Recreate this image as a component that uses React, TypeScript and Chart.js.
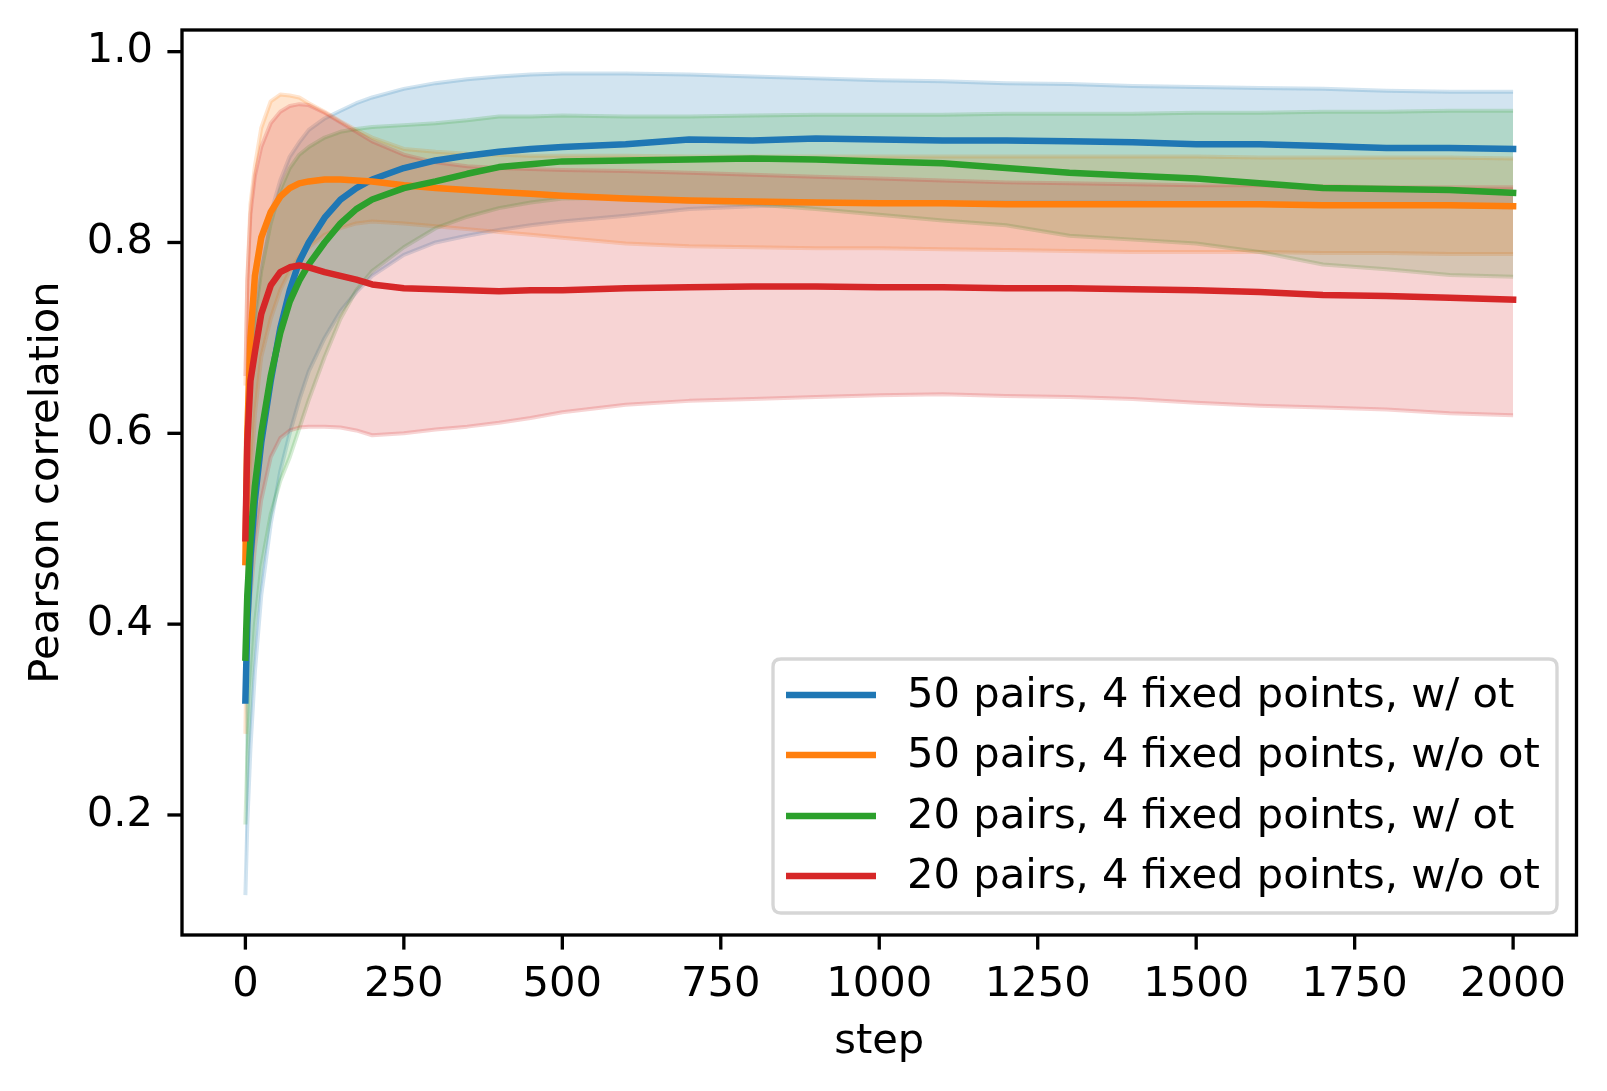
import React, { useEffect, useRef } from 'react';
import { Chart, registerables } from 'chart.js';

Chart.register(...registerables);

// ---------- data ----------
const steps = [0, 3, 8, 15, 25, 40, 55, 70, 85, 100, 125, 150, 175, 200, 250, 300, 350, 400, 450, 500, 600, 700, 800, 900, 1000, 1100, 1200, 1300, 1400, 1500, 1600, 1700, 1800, 1900, 2000];

const seriesLabels = [
  '50 pairs, 4 fixed points, w/ ot',
  '50 pairs, 4 fixed points, w/o ot',
  '20 pairs, 4 fixed points, w/ ot',
  '20 pairs, 4 fixed points, w/o ot',
];

const blueMean = [0.32, 0.40, 0.47, 0.53, 0.59, 0.655, 0.71, 0.75, 0.78, 0.80, 0.826, 0.845, 0.857, 0.866, 0.878, 0.886, 0.891, 0.895, 0.898, 0.900, 0.903, 0.908, 0.907, 0.909, 0.908, 0.907, 0.907, 0.906, 0.905, 0.903, 0.903, 0.901, 0.899, 0.899, 0.898];
const blueHigh = [0.52, 0.60, 0.67, 0.73, 0.78, 0.83, 0.865, 0.89, 0.905, 0.918, 0.93, 0.938, 0.946, 0.952, 0.961, 0.967, 0.971, 0.974, 0.976, 0.977, 0.977, 0.976, 0.974, 0.972, 0.970, 0.969, 0.967, 0.966, 0.964, 0.963, 0.962, 0.961, 0.959, 0.958, 0.958];
const blueLow = [0.116, 0.19, 0.27, 0.35, 0.43, 0.505, 0.56, 0.60, 0.635, 0.665, 0.70, 0.728, 0.748, 0.765, 0.787, 0.80, 0.807, 0.813, 0.818, 0.822, 0.828, 0.835, 0.838, 0.840, 0.841, 0.841, 0.842, 0.842, 0.842, 0.841, 0.840, 0.840, 0.839, 0.838, 0.837];

const orangeMean = [0.465, 0.60, 0.70, 0.765, 0.805, 0.832, 0.848, 0.857, 0.862, 0.864, 0.866, 0.866, 0.865, 0.864, 0.86, 0.857, 0.855, 0.853, 0.851, 0.849, 0.846, 0.844, 0.843, 0.842, 0.841, 0.841, 0.840, 0.840, 0.840, 0.840, 0.840, 0.839, 0.839, 0.839, 0.838];
const orangeHigh = [0.65, 0.76, 0.84, 0.88, 0.92, 0.948, 0.955, 0.954, 0.952, 0.946, 0.937, 0.927, 0.918, 0.910, 0.898, 0.895, 0.893, 0.892, 0.891, 0.891, 0.891, 0.890, 0.890, 0.890, 0.890, 0.890, 0.890, 0.890, 0.890, 0.890, 0.889, 0.889, 0.889, 0.889, 0.888];
const orangeLow = [0.285, 0.42, 0.54, 0.62, 0.68, 0.72, 0.75, 0.77, 0.785, 0.795, 0.808, 0.815, 0.82, 0.822, 0.82, 0.817, 0.814, 0.811, 0.808, 0.805, 0.799, 0.796, 0.795, 0.794, 0.794, 0.793, 0.792, 0.791, 0.790, 0.790, 0.790, 0.789, 0.789, 0.788, 0.788];

const greenMean = [0.365, 0.43, 0.49, 0.545, 0.60, 0.66, 0.705, 0.738, 0.76, 0.777, 0.80, 0.82, 0.835, 0.845, 0.857, 0.864, 0.872, 0.879, 0.882, 0.885, 0.886, 0.887, 0.888, 0.887, 0.885, 0.883, 0.878, 0.873, 0.870, 0.867, 0.862, 0.857, 0.856, 0.855, 0.852];
const greenHigh = [0.54, 0.60, 0.66, 0.72, 0.77, 0.82, 0.855, 0.878, 0.892, 0.90, 0.91, 0.916, 0.919, 0.921, 0.923, 0.925, 0.928, 0.932, 0.932, 0.933, 0.932, 0.932, 0.933, 0.934, 0.934, 0.934, 0.935, 0.935, 0.935, 0.936, 0.936, 0.937, 0.937, 0.938, 0.938];
const greenLow = [0.19, 0.26, 0.33, 0.40, 0.46, 0.515, 0.55, 0.575, 0.605, 0.635, 0.68, 0.72, 0.75, 0.77, 0.795, 0.815, 0.827, 0.836, 0.842, 0.846, 0.847, 0.843, 0.840, 0.835, 0.829, 0.823, 0.818, 0.807, 0.803, 0.799, 0.790, 0.777, 0.772, 0.766, 0.764];

const redMean = [0.49, 0.59, 0.655, 0.685, 0.725, 0.755, 0.769, 0.774, 0.776, 0.774, 0.769, 0.765, 0.761, 0.756, 0.752, 0.751, 0.750, 0.749, 0.750, 0.750, 0.752, 0.753, 0.754, 0.754, 0.753, 0.753, 0.752, 0.752, 0.751, 0.750, 0.748, 0.745, 0.744, 0.742, 0.740];
const redHigh = [0.66, 0.76, 0.83, 0.87, 0.90, 0.925, 0.937, 0.943, 0.945, 0.944, 0.936, 0.926, 0.916, 0.906, 0.892, 0.884, 0.880, 0.878, 0.877, 0.876, 0.875, 0.873, 0.871, 0.869, 0.867, 0.865, 0.863, 0.862, 0.861, 0.860, 0.860, 0.859, 0.858, 0.858, 0.858];
const redLow = [0.32, 0.38, 0.43, 0.48, 0.53, 0.575, 0.595, 0.603, 0.606, 0.607, 0.607, 0.606, 0.603, 0.598, 0.600, 0.604, 0.607, 0.611, 0.616, 0.622, 0.630, 0.634, 0.636, 0.638, 0.640, 0.641, 0.639, 0.638, 0.636, 0.632, 0.629, 0.627, 0.625, 0.621, 0.619];

const xTicks = [0, 250, 500, 750, 1000, 1250, 1500, 1750, 2000];
const yTicks = [0.2, 0.4, 0.6, 0.8, 1.0];

const COLORS = ['31,119,180', '255,127,14', '44,160,44', '214,39,40'];

// ---------- styling constants ----------
const W = 1607;
const H = 1091;
const FONT = 41.67;
const FAMILY = '"DejaVu Sans", "Noto Sans", sans-serif';
const SPINE = 3.33;
const TICK_LEN = 14.6;
const MAIN_LW = 6.5;

const series = [
  { label: seriesLabels[0], mean: blueMean, hi: blueHigh, lo: blueLow, rgb: COLORS[0] },
  { label: seriesLabels[1], mean: orangeMean, hi: orangeHigh, lo: orangeLow, rgb: COLORS[1] },
  { label: seriesLabels[2], mean: greenMean, hi: greenHigh, lo: greenLow, rgb: COLORS[2] },
  { label: seriesLabels[3], mean: redMean, hi: redHigh, lo: redLow, rgb: COLORS[3] },
];

const toPts = (arr: number[]) => steps.map((s, i) => ({ x: s, y: arr[i] }));

function buildDatasets() {
  const ds: any[] = [];
  series.forEach((s, k) => {
    const hiIdx = ds.length;
    ds.push({
      label: '_band_hi_' + k,
      data: toPts(s.hi),
      borderColor: `rgba(${s.rgb},0.2)`,
      backgroundColor: `rgba(${s.rgb},0.2)`,
      borderWidth: 4,
      fill: hiIdx + 1,
      order: 20 - k,
      pointRadius: 0,
      tension: 0,
      borderJoinStyle: 'round',
    });
    ds.push({
      label: '_band_lo_' + k,
      data: toPts(s.lo),
      borderColor: `rgba(${s.rgb},0.2)`,
      backgroundColor: 'rgba(0,0,0,0)',
      borderWidth: 4,
      fill: false,
      order: 20 - k,
      pointRadius: 0,
      tension: 0,
      borderJoinStyle: 'round',
    });
  });
  series.forEach((s, k) => {
    ds.push({
      label: s.label,
      data: toPts(s.mean),
      borderColor: `rgb(${s.rgb})`,
      backgroundColor: `rgb(${s.rgb})`,
      borderWidth: MAIN_LW,
      fill: false,
      order: 10 - k,
      pointRadius: 0,
      tension: 0,
      borderJoinStyle: 'round',
      borderCapStyle: 'square',
      isMain: true,
      rgb: s.rgb,
    });
  });
  return ds;
}

const framePlugin = {
  id: 'frameAndLegend',
  afterDraw(chart: any) {
    const { ctx, chartArea } = chart;
    const { left, right, top, bottom } = chartArea;
    ctx.save();
    // ticks
    ctx.strokeStyle = '#000';
    ctx.lineWidth = SPINE;
    ctx.lineCap = 'butt';
    const xs = chart.scales.x;
    const ys = chart.scales.y;
    xTicks.forEach((v) => {
      const px = xs.getPixelForValue(v);
      ctx.beginPath();
      ctx.moveTo(px, bottom);
      ctx.lineTo(px, bottom + TICK_LEN);
      ctx.stroke();
    });
    yTicks.forEach((v) => {
      const py = ys.getPixelForValue(v);
      ctx.beginPath();
      ctx.moveTo(left, py);
      ctx.lineTo(left - TICK_LEN, py);
      ctx.stroke();
    });
    // spines
    ctx.lineJoin = 'miter';
    ctx.strokeRect(left, top, right - left, bottom - top);

    // legend
    const bx = 773, by = 659, bw = 784, bh = 254, r = 8;
    ctx.beginPath();
    ctx.moveTo(bx + r, by);
    ctx.lineTo(bx + bw - r, by);
    ctx.quadraticCurveTo(bx + bw, by, bx + bw, by + r);
    ctx.lineTo(bx + bw, by + bh - r);
    ctx.quadraticCurveTo(bx + bw, by + bh, bx + bw - r, by + bh);
    ctx.lineTo(bx + r, by + bh);
    ctx.quadraticCurveTo(bx, by + bh, bx, by + bh - r);
    ctx.lineTo(bx, by + r);
    ctx.quadraticCurveTo(bx, by, bx + r, by);
    ctx.closePath();
    ctx.fillStyle = 'rgba(255,255,255,0.8)';
    ctx.fill();
    ctx.strokeStyle = 'rgba(204,204,204,0.8)';
    ctx.lineWidth = SPINE;
    ctx.stroke();

    const mains = chart.data.datasets.filter((d: any) => d.isMain);
    const rowY = [695, 755, 816, 876];
    ctx.font = `${FONT}px ${FAMILY}`;
    ctx.textBaseline = 'middle';
    ctx.textAlign = 'left';
    mains.forEach((d: any, i: number) => {
      const y = rowY[i];
      ctx.strokeStyle = d.borderColor;
      ctx.lineWidth = MAIN_LW;
      ctx.lineCap = 'butt';
      ctx.beginPath();
      ctx.moveTo(786, y);
      ctx.lineTo(876, y);
      ctx.stroke();
      ctx.fillStyle = '#000';
      ctx.fillText(d.label, 907, y + 1);
    });
    ctx.restore();
  },
};

export default function App() {
  const canvasRef = useRef<HTMLCanvasElement | null>(null);

  useEffect(() => {
    const canvas = canvasRef.current;
    if (!canvas) return;
    Chart.defaults.font.family = FAMILY;
    Chart.defaults.font.size = FONT;
    Chart.defaults.color = '#000';

    const chart = new Chart(canvas, {
      type: 'line',
      data: { datasets: buildDatasets() },
      options: {
        animation: false,
        responsive: false,
        devicePixelRatio: 1,
        events: [],
        layout: { padding: { top: 30, right: 30.5, left: 0, bottom: 0 } },
        plugins: {
          legend: { display: false },
          tooltip: { enabled: false },
          filler: { propagate: false },
        },
        scales: {
          x: {
            type: 'linear',
            min: -100,
            max: 2100,
            grid: { display: false, drawTicks: false },
            border: { display: false },
            ticks: {
              padding: 25,
              maxRotation: 0,
              autoSkip: false,
              font: { size: FONT, family: FAMILY },
              color: '#000',
              callback: (v: any) => String(v),
            },
            afterBuildTicks: (scale: any) => {
              scale.ticks = xTicks.map((v) => ({ value: v }));
            },
            afterFit: (scale: any) => {
              scale.height = 156;
              scale.paddingLeft = 0;
              scale.paddingRight = 0;
            },
            title: {
              display: true,
              text: 'step',
              font: { size: FONT, family: FAMILY, lineHeight: 1.2 },
              color: '#000',
              padding: { top: 0, bottom: 24 },
            },
          },
          y: {
            type: 'linear',
            min: 0.0742,
            max: 1.0227,
            grid: { display: false, drawTicks: false },
            border: { display: false },
            ticks: {
              padding: 29,
              autoSkip: false,
              font: { size: FONT, family: FAMILY },
              color: '#000',
              callback: (v: any) => Number(v).toFixed(1),
            },
            afterBuildTicks: (scale: any) => {
              scale.ticks = yTicks.map((v) => ({ value: v }));
            },
            afterFit: (scale: any) => {
              scale.width = 182;
              scale.paddingTop = 0;
              scale.paddingBottom = 0;
            },
            title: {
              display: true,
              text: 'Pearson correlation',
              font: { size: FONT, family: FAMILY, lineHeight: 1.2 },
              color: '#000',
              padding: { top: 22, bottom: 0 },
            },
          },
        },
      } as any,
      plugins: [framePlugin],
    });
    return () => chart.destroy();
  }, []);

  return (
    <div style={{ position: 'absolute', left: 0, top: 0, width: W, height: H, background: '#fff' }}>
      <canvas ref={canvasRef} width={W} height={H} style={{ width: W, height: H, display: 'block' }} />
    </div>
  );
}
